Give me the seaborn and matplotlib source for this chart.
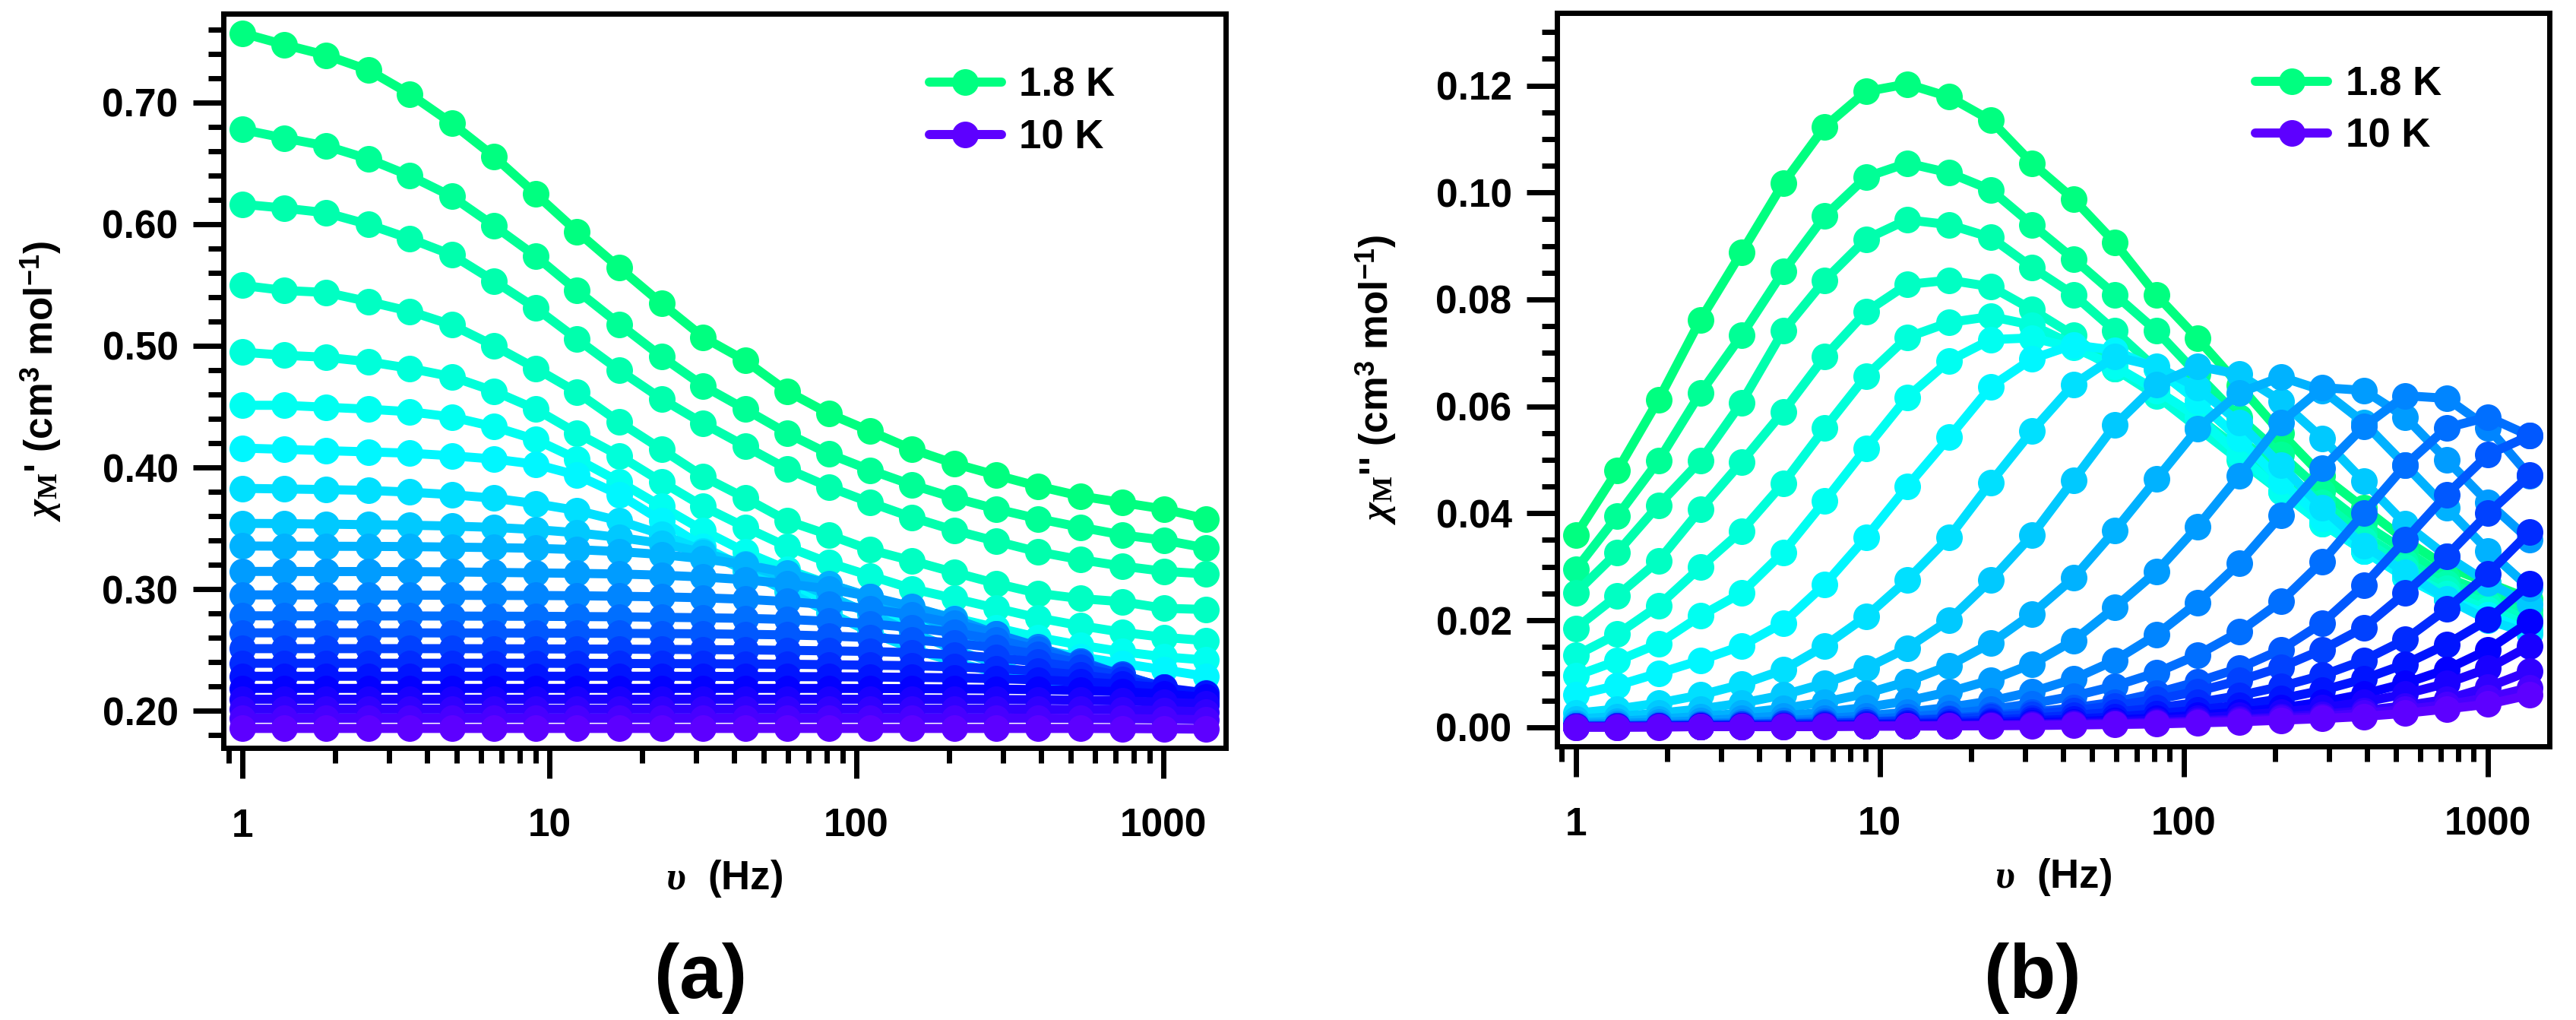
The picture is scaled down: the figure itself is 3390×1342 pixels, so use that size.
import colorsys
import matplotlib
matplotlib.use("Agg")
import matplotlib.pyplot as plt
from matplotlib.lines import Line2D
from matplotlib.ticker import MultipleLocator, LogLocator, NullFormatter, FormatStrFormatter
import pandas as pd
import seaborn as sns

# ---------------- data ----------------
freq = [1, 1.37, 1.87, 2.57, 3.51, 4.81, 6.59, 9.02, 12.3, 16.9, 23.2, 31.7,
        43.4, 59.4, 81.4, 111, 152, 209, 286, 391, 536, 733, 1004, 1374]

temps = [1.8, 2.0, 2.2, 2.4, 2.6, 2.8, 3.0, 3.2, 3.4, 3.6, 3.8, 4.0,
         4.5, 5.0, 5.5, 6.0, 6.5, 7.0, 7.5, 8.0, 9.0, 10.0]

# in-phase chi' (cm3 mol-1), one list per temperature
re_01 = [.7571, .7476, .739, .7268, .707, .683, .6558, .6249, .594, .5641, .5348, .5071, .4879, .4628, .4442, .4298, .4149, .4031, .3936, .3845, .3765, .3711, .3658, .3578]
re_02 = [.6778, .6708, .6644, .6537, .6398, .6228, .5988, .5738, .5455, .5178, .4911, .4671, .4479, .4282, .4111, .3978, .3856, .3749, .3658, .3578, .3509, .3445, .3402, .3338]
re_03 = [.6164, .6132, .6094, .5998, .5881, .5748, .5534, .5311, .5055, .4799, .4564, .4362, .4175, .3989, .384, .3711, .3589, .3482, .3392, .3306, .3242, .3189, .3146, .3125]
re_04 = [.5497, .5455, .5439, .5364, .5284, .5172, .5002, .4815, .4618, .4373, .4149, .3925, .3749, .3562, .3445, .3322, .3232, .3136, .3045, .2965, .2922, .2896, .2842, .2832]
re_05 = [.4948, .4922, .4906, .4869, .4815, .4746, .4628, .4479, .4282, .4096, .3882, .3679, .3509, .3349, .3216, .3109, .3002, .2922, .2842, .2763, .2699, .2645, .2603, .2576]
re_06 = [.4511, .4511, .4495, .4479, .4458, .4415, .4335, .4229, .4069, .3882, .3679, .3482, .3306, .3162, .304, .2933, .2842, .2763, .2682, .2603, .2539, .2485, .2443, .2416]
re_07 = [.4159, .4149, .4138, .4128, .4117, .4096, .4069, .4026, .3936, .3776, .3562, .3349, .3173, .3029, .2912, .2816, .272, .2645, .2576, .2506, .2443, .2389, .2336, .2283]
re_08 = [.3828, .3823, .3818, .3811, .3797, .3776, .3747, .3702, .3646, .3561, .345, .3315, .3152, .298, .2808, .2645, .251, .2399, .2314, .2258, .2213, .2184, .2163, .2149]
re_09 = [.354, .3538, .3534, .3529, .3525, .3518, .3507, .3489, .3463, .3424, .3375, .3301, .3204, .3087, .2944, .2794, .2644, .2502, .2385, .2287, .2214, .2164, .2125, .21]
re_10 = [.3354, .3353, .3352, .3351, .3349, .3345, .3341, .3335, .3324, .3308, .3284, .3248, .3202, .3134, .3043, .2935, .2803, .2664, .2525, .2393, .2285, .2194, .2126, .208]
re_11 = [.3145, .3145, .3144, .3144, .3143, .3141, .3137, .3133, .3129, .3124, .3114, .3099, .3077, .3043, .3001, .2938, .2855, .2754, .2632, .2504, .2376, .2254, .2153, .207]
re_12 = [.2952, .2952, .2951, .2951, .295, .2949, .2948, .2947, .2945, .2941, .2936, .2928, .2916, .2897, .2872, .2837, .2786, .2718, .263, .2527, .2406, .2284, .2163, .206]
re_13 = [.278, .278, .278, .2779, .2779, .2778, .2777, .2776, .2774, .2772, .2768, .2764, .2759, .275, .2735, .2714, .2683, .2642, .2583, .2504, .2409, .2293, .2172, .205]
re_14 = [.264, .264, .264, .264, .264, .2639, .2639, .2638, .2637, .2636, .2634, .2632, .2628, .2623, .2614, .2601, .2582, .2555, .2517, .2463, .2391, .2298, .2189, .206]
re_15 = [.251, .251, .251, .251, .251, .251, .2509, .2508, .2507, .2506, .2504, .2502, .25, .2496, .2492, .2487, .2476, .2459, .2435, .24, .2354, .2286, .2197, .2089]
re_16 = [.239, .239, .239, .239, .239, .239, .239, .239, .2389, .2388, .2387, .2386, .2384, .2382, .2378, .2374, .237, .236, .2346, .2325, .2294, .2254, .2196, .2118]
re_17 = [.2283, .2283, .2283, .2283, .2283, .2283, .2283, .2283, .2283, .2283, .2283, .2282, .2281, .228, .2279, .2277, .2274, .227, .2263, .2253, .2238, .2217, .2188, .2146]
re_18 = [.2183, .2183, .2183, .2183, .2183, .2183, .2183, .2183, .2183, .2183, .2183, .2183, .2183, .2183, .2183, .2182, .2181, .2179, .2177, .2173, .2166, .2155, .2137, .211]
re_19 = [.2094, .2094, .2094, .2094, .2094, .2094, .2094, .2094, .2094, .2094, .2094, .2094, .2094, .2094, .2094, .2094, .2094, .2093, .2092, .209, .2086, .208, .207, .2055]
re_20 = [.2013, .2013, .2013, .2013, .2013, .2013, .2013, .2013, .2013, .2013, .2013, .2013, .2013, .2013, .2013, .2013, .2013, .2013, .2013, .2012, .201, .2007, .2001, .199]
re_21 = [.1938, .1938, .1938, .1938, .1938, .1938, .1938, .1938, .1938, .1938, .1938, .1938, .1938, .1938, .1938, .1938, .1938, .1938, .1938, .1938, .1937, .1935, .1931, .1925]
re_22 = [.1854, .1854, .1854, .1854, .1854, .1854, .1854, .1854, .1854, .1854, .1854, .1854, .1854, .1854, .1854, .1854, .1854, .1854, .1854, .1854, .1854, .1853, .1851, .1848]

# out-of-phase chi'' (cm3 mol-1), one list per temperature
im_01 = [.0359, .048, .0612, .0762, .0888, .1017, .1123, .1189, .1203, .1179, .1135, .1055, .0988, .0906, .0808, .0727, .064, .055, .047, .041, .035, .030, .027, .024]
im_02 = [.0295, .0395, .0498, .0625, .0733, .0852, .0956, .1029, .1055, .1037, .1005, .094, .0876, .0809, .0741, .066, .058, .051, .044, .038, .033, .028, .025, .022]
im_03 = [.0251, .0327, .0415, .0498, .0607, .0741, .0836, .0913, .0949, .094, .0916, .086, .0809, .0741, .067, .061, .054, .048, .042, .036, .031, .027, .024, .021]
im_04 = [.0185, .0246, .0311, .0407, .0496, .059, .0693, .0777, .0828, .0836, .0824, .0781, .0733, .067, .063, .058, .052, .046, .040, .035, .030, .026, .023, .020]
im_05 = [.0134, .0174, .0227, .0299, .0367, .0456, .0559, .0657, .0729, .0757, .0768, .0752, .0715, .067, .062, .056, .050, .044, .038, .033, .029, .025, .022, .019]
im_06 = [.0096, .0124, .0156, .0208, .0251, .0327, .0423, .0522, .0617, .0685, .0725, .0728, .071, .0675, .063, .058, .051, .044, .038, .033, .028, .024, .021, .018]
im_07 = [.006, .0078, .0101, .0125, .0152, .0195, .0267, .0355, .045, .0542, .0637, .0689, .0715, .0705, .067, .061, .054, .046, .039, .033, .028, .024, .021, .018]
im_08 = [.0026, .0034, .0045, .006, .008, .0107, .0152, .0207, .0275, .0355, .0458, .0554, .0641, .0693, .0675, .0635, .057, .049, .041, .034, .029, .024, .020, .0175]
im_09 = [.0015, .002, .0026, .0034, .0045, .006, .0082, .011, .0148, .020, .0275, .0359, .0462, .0565, .0641, .0675, .066, .061, .054, .046, .038, .032, .027, .023]
im_10 = [.0008, .0011, .0015, .002, .0026, .0035, .0047, .0063, .0085, .0115, .0157, .0212, .0279, .0368, .0464, .0558, .0625, .0655, .063, .057, .049, .041, .033, .026]
im_11 = [.0005, .0007, .0009, .0012, .0016, .0021, .0028, .0037, .0049, .0066, .0088, .0118, .0162, .0224, .0291, .0375, .047, .057, .0635, .063, .058, .050, .042, .035]
im_12 = [.0003, .0004, .0005, .0007, .0009, .0012, .0016, .0021, .0028, .0037, .0049, .0066, .009, .0125, .0173, .0233, .0306, .0396, .0484, .0562, .062, .0615, .056, .047]
im_13 = [.0002, .0003, .0004, .0005, .0006, .0008, .0011, .0014, .0019, .0025, .0033, .0044, .0058, .0077, .0102, .0135, .0178, .0235, .031, .040, .049, .056, .058, .0545]
im_14 = [.0002, .0002, .0003, .0004, .0005, .0006, .0008, .001, .0013, .0017, .0022, .0028, .0036, .0047, .0064, .0085, .011, .0145, .0195, .0265, .035, .0435, .051, .0545]
im_15 = [.0002, .0002, .0003, .0004, .0005, .0006, .0007, .0009, .0012, .0015, .0019, .0024, .0031, .004, .0052, .0067, .0087, .0112, .0145, .0186, .0251, .032, .040, .0471]
im_16 = [.0001, .0002, .0002, .0003, .0003, .0004, .0005, .0006, .0008, .001, .0013, .0017, .0022, .0028, .0036, .0046, .0059, .0076, .0097, .0125, .0164, .0221, .0287, .0365]
im_17 = [.0001, .0001, .0002, .0002, .0003, .0003, .0004, .0005, .0006, .0007, .0009, .0012, .0015, .0019, .0025, .0032, .0041, .0053, .0069, .009, .0118, .0155, .0201, .0268]
im_18 = [.0001, .0001, .0001, .0002, .0002, .0002, .0003, .0003, .0004, .0005, .0006, .0008, .001, .0013, .0017, .0022, .0028, .0036, .0047, .0062, .0082, .0108, .0145, .0197]
im_19 = [.0001, .0001, .0001, .0001, .0002, .0002, .0002, .0003, .0003, .0004, .0005, .0006, .0008, .001, .0013, .0017, .0022, .0028, .0036, .0047, .0062, .0082, .011, .0152]
im_20 = [.0001, .0001, .0001, .0001, .0001, .0002, .0002, .0002, .0003, .0003, .0004, .0005, .0006, .0007, .0009, .0012, .0015, .0019, .0024, .0031, .004, .0052, .0075, .0105]
im_21 = [.0, .0, .0001, .0001, .0001, .0001, .0002, .0002, .0002, .0003, .0003, .0004, .0005, .0006, .0008, .001, .0013, .0016, .002, .0026, .0033, .0042, .0055, .0074]
im_22 = [.0, .0, .0, .0001, .0001, .0001, .0001, .0002, .0002, .0002, .0003, .0003, .0004, .0005, .0006, .0008, .001, .0013, .0016, .002, .0026, .0034, .0043, .006]

real_series = [re_01, re_02, re_03, re_04, re_05, re_06, re_07, re_08, re_09, re_10, re_11,
               re_12, re_13, re_14, re_15, re_16, re_17, re_18, re_19, re_20, re_21, re_22]
imag_series = [im_01, im_02, im_03, im_04, im_05, im_06, im_07, im_08, im_09, im_10, im_11,
               im_12, im_13, im_14, im_15, im_16, im_17, im_18, im_19, im_20, im_21, im_22]

legend_labels = ["1.8 K", "10 K"]

# ---------------- long-form table ----------------
rows = []
for T, re_v, im_v in zip(temps, real_series, imag_series):
    for f, a, b in zip(freq, re_v, im_v):
        rows.append((f, a, b, f"{T:g} K"))
df = pd.DataFrame(rows, columns=["freq", "chi1", "chi2", "label"])
hue_order = [f"{T:g} K" for T in temps]

n = len(temps)
colors = [colorsys.hsv_to_rgb((150 + 112 * i / (n - 1)) / 360.0, 1.0, 1.0) for i in range(n)]
palette = dict(zip(hue_order, colors))

# ---------------- style ----------------
sns.set_style("ticks")
plt.rcParams['font.family'] = ['Liberation Sans', 'DejaVu Sans']
plt.rcParams['font.weight'] = 'bold'
plt.rcParams['axes.labelweight'] = 'bold'
plt.rcParams['text.color'] = 'black'
plt.rcParams['axes.labelcolor'] = 'black'
plt.rcParams['axes.edgecolor'] = 'black'
plt.rcParams['xtick.color'] = 'black'
plt.rcParams['ytick.color'] = 'black'
plt.rcParams['mathtext.fontset'] = 'custom'
plt.rcParams['mathtext.rm'] = 'Liberation Serif'
plt.rcParams['mathtext.it'] = 'Liberation Serif:italic'
plt.rcParams['mathtext.bf'] = 'Liberation Sans:bold'

LW = 4.3
MS = 12.6
LABEL_FS = 18.5

fig = plt.figure(figsize=(16.95, 6.71), dpi=200)
axa = fig.add_axes([0.08673, 0.26677, 0.38909, 0.71982])
axb = fig.add_axes([0.60442, 0.26826, 0.38525, 0.71908])

for ax, col in ((axa, "chi1"), (axb, "chi2")):
    sns.lineplot(data=df, x="freq", y=col, hue="label", hue_order=hue_order,
                 palette=palette, marker="o", markersize=MS, markeredgewidth=0,
                 linewidth=LW, estimator=None, sort=False, legend=False, ax=ax)
    ax.set_xscale("log")
    ax.set_xlim(0.867, 1596)
    ax.set_xticks([1, 10, 100, 1000])
    ax.set_xticklabels(["1", "10", "100", "1000"])
    ax.xaxis.set_minor_locator(LogLocator(base=10, subs=range(2, 10), numticks=20))
    ax.xaxis.set_minor_formatter(NullFormatter())
    for s in ax.spines.values():
        s.set_linewidth(2.5)
        s.set_color("black")
    ax.tick_params(which="major", direction="out", length=14.4, width=2.5,
                   labelsize=18.5, color="black", labelcolor="black")
    ax.tick_params(which="minor", direction="out", length=7.2, width=2.5, color="black")
    ax.tick_params(axis="y", which="major", pad=7)
    ax.tick_params(axis="x", which="major", pad=14)
    ax.set_xlabel(r"$\upsilon$  (Hz)", fontsize=LABEL_FS + 0.5, fontweight="bold", color="black")
    ax.xaxis.set_label_coords(0.5, -0.150)
    handles = [Line2D([], [], color=colors[0], lw=LW, marker="o", ms=MS, mew=0),
               Line2D([], [], color=colors[-1], lw=LW, marker="o", ms=MS, mew=0)]
    leg = ax.legend(handles, legend_labels, loc="upper left", bbox_to_anchor=(0.704, 0.928),
                    frameon=False, fontsize=19, handlelength=1.8, handletextpad=0.45,
                    labelspacing=0.35, borderaxespad=0, borderpad=0)
    for t in leg.get_texts():
        t.set_fontweight("bold")
        t.set_color("black")

axa.set_ylim(0.1694, 0.7731)
axa.yaxis.set_major_locator(MultipleLocator(0.1))
axa.yaxis.set_minor_locator(MultipleLocator(0.02))
axa.yaxis.set_major_formatter(FormatStrFormatter("%.2f"))
axa.set_ylabel(r"$\chi_{\mathrm{M}}$' (cm$^{\mathbf{3}}$ mol$^{\mathbf{-1}}$)",
               fontsize=LABEL_FS, fontweight="bold", color="black")
axa.yaxis.set_label_coords(-0.160, 0.5)

axb.set_ylim(-0.0036, 0.1336)
axb.yaxis.set_major_locator(MultipleLocator(0.02))
axb.yaxis.set_minor_locator(MultipleLocator(0.005))
axb.yaxis.set_major_formatter(FormatStrFormatter("%.2f"))
axb.set_ylabel(r"$\chi_{\mathrm{M}}$'' (cm$^{\mathbf{3}}$ mol$^{\mathbf{-1}}$)",
               fontsize=LABEL_FS, fontweight="bold", color="black")
axb.yaxis.set_label_coords(-0.160, 0.5)

for ax in (axa, axb):
    for lab in ax.get_xticklabels() + ax.get_yticklabels():
        lab.set_fontweight("bold")
        lab.set_color("black")

fig.text(922 / 3390, 1 - 1287 / 1342, "(a)", ha="center", va="center", fontsize=36,
         fontweight="bold", color="black")
fig.text(2675 / 3390, 1 - 1287 / 1342, "(b)", ha="center", va="center", fontsize=36,
         fontweight="bold", color="black")

fig.savefig("out.png", dpi=200)
